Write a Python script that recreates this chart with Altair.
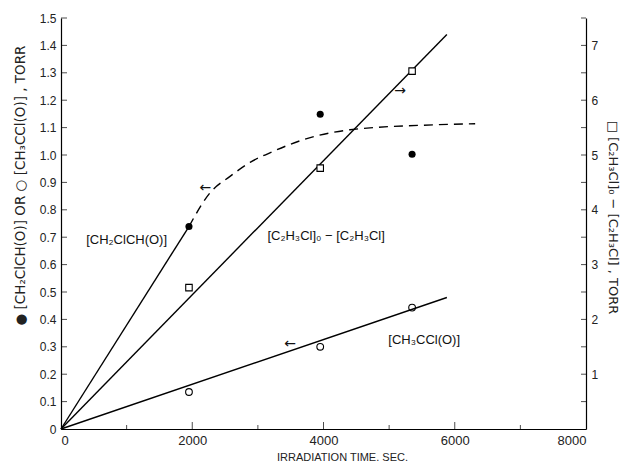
import altair as alt
import pandas as pd

# ---- data ----
times = [1950, 3950, 5350]
ch2clcho = [0.739, 1.149, 1.003]      # filled circles, left axis (torr)
ch3cclo = [0.135, 0.300, 0.443]       # open circles, left axis (torr)
c2h3cl_loss = [2.58, 4.76, 6.53]      # squares, right axis (torr)

solid_ch2_t = [0, 1950]
solid_ch2_v = [0, 0.739]
dash_t = [1950, 2271, 2576, 2881, 3232, 3643, 4405, 5671, 6311]
dash_v = [0.739, 0.862, 0.922, 0.973, 1.013, 1.052, 1.092, 1.110, 1.114]
ch3_line_t = [0, 5880]
ch3_line_v = [0, 0.48]
sq_line_t = [0, 5880]
sq_line_v = [0, 7.20]

x_labels = [0, 2000, 4000, 6000, 8000]
x_ticks_major = [2000, 4000, 6000]
x_ticks_minor = [1000, 3000, 5000, 7000]
left_values = [round(0.1 * i, 1) for i in range(0, 16)]
right_ticks = [0.5 * i for i in range(1, 16)]
right_labels = [1, 2, 3, 4, 5, 6, 7]

label_text = ["[CH₂ClCH(O)]", "[C₂H₃Cl]₀ − [C₂H₃Cl]", "[CH₃CCl(O)]"]
label_t = [1000, 4040, 5534]
label_v = [0.690, 0.703, 0.326]
arrow_text = ["←", "→", "←"]
arrow_t = [2200, 5168, 3490]
arrow_v = [0.878, 1.233, 0.312]

FONT = "Liberation Sans"
TFONT = "DejaVu Sans"
W, H = 525, 411

x_enc = alt.X(
    "t:Q",
    scale=alt.Scale(domain=[0, 8000], nice=False, zero=False),
    axis=alt.Axis(
        values=x_labels, format="d", ticks=False, grid=False, labelPadding=5,
        labelFontSize=13, title="IRRADIATION TIME, SEC.", titleFontSize=11,
        titleFont=FONT,
        titleFontWeight="normal", titleX=281, titleY=31, titleBaseline="alphabetic",
        titleAlign="center",
    ),
)
y_left = alt.Y(
    "v:Q",
    scale=alt.Scale(domain=[0, 1.5], nice=False, zero=False),
    axis=alt.Axis(
        orient="left", values=left_values, ticks=False, grid=False, labelPadding=5,
        labelFontSize=12,
        labelExpr="datum.value == 0 ? '0' : format(datum.value, '.1f')",
        title="● [CH₂ClCH(O)]  OR  ○ [CH₃CCl(O)] , TORR", titleFontSize=13.5,
        titleFont=TFONT,
        titleFontWeight="normal", titleX=-41, titleY=167, titleAngle=-90,
        titleAlign="center", titleBaseline="middle",
    ),
)
y_right = alt.Y(
    "v:Q",
    scale=alt.Scale(domain=[0, 7.5], nice=False, zero=False),
    axis=alt.Axis(
        orient="right", values=right_labels, format="d", ticks=False, grid=False,
        labelPadding=5, labelFontSize=12,
        title="□ [C₂H₃Cl]₀ − [C₂H₃Cl] , TORR", titleFontSize=13,
        titleFont=TFONT,
        titleFontWeight="normal", titleX=26, titleY=199, titleAngle=90,
        titleAlign="center", titleBaseline="middle",
    ),
)

df_dots = pd.DataFrame({"t": times, "v": ch2clcho})
df_open = pd.DataFrame({"t": times, "v": ch3cclo})
df_sq = pd.DataFrame({"t": times, "v": c2h3cl_loss})
df_solid = pd.DataFrame({"t": solid_ch2_t, "v": solid_ch2_v})
df_dash = pd.DataFrame({"t": dash_t, "v": dash_v})
df_ch3 = pd.DataFrame({"t": ch3_line_t, "v": ch3_line_v})
df_sqline = pd.DataFrame({"t": sq_line_t, "v": sq_line_v})
df_xmaj = pd.DataFrame({"t": x_ticks_major, "v": [0] * len(x_ticks_major)})
df_xmin = pd.DataFrame({"t": x_ticks_minor, "v": [0] * len(x_ticks_minor)})
df_lt = pd.DataFrame({"t": [0] * 15, "v": left_values[1:]})
df_rt = pd.DataFrame({"t": [8000] * len(right_ticks), "v": right_ticks})
df_lab = pd.DataFrame({"t": label_t, "v": label_v, "text": label_text})
df_arr = pd.DataFrame({"t": arrow_t, "v": arrow_v, "text": arrow_text})

line_style = dict(color="black", strokeWidth=1.4)

left_layers = alt.layer(
    alt.Chart(df_solid).mark_line(**line_style).encode(x=x_enc, y=y_left),
    alt.Chart(df_dash).mark_line(interpolate="monotone", strokeDash=[9, 6], **line_style).encode(x=x_enc, y=y_left),
    alt.Chart(df_ch3).mark_line(**line_style).encode(x=x_enc, y=y_left),
    alt.Chart(df_dots).mark_point(shape="circle", filled=True, size=50, color="black", opacity=1).encode(x=x_enc, y=y_left),
    alt.Chart(df_open).mark_point(shape="circle", filled=False, size=45, color="black", strokeWidth=1.1, opacity=1).encode(x=x_enc, y=y_left),
    alt.Chart(df_xmaj).mark_tick(orient="vertical", size=7, thickness=1, yOffset=-3.5, color="black").encode(x=x_enc, y=y_left),
    alt.Chart(df_xmin).mark_tick(orient="vertical", size=4, thickness=1, yOffset=-2, color="black").encode(x=x_enc, y=y_left),
    alt.Chart(df_lt).mark_tick(orient="horizontal", size=6, thickness=1, xOffset=3, color="black").encode(x=x_enc, y=y_left),
    alt.Chart(df_lab).mark_text(font=FONT, fontSize=13, color="#111").encode(x=x_enc, y=y_left, text="text:N"),
    alt.Chart(df_arr).mark_text(font="DejaVu Sans", fontSize=14, color="#111").encode(x=x_enc, y=y_left, text="text:N"),
)

right_layers = alt.layer(
    alt.Chart(df_sqline).mark_line(**line_style).encode(x=x_enc, y=y_right),
    alt.Chart(df_sq).mark_point(shape="square", filled=True, size=42, color="white", stroke="black", strokeWidth=1.1, opacity=1).encode(x=x_enc, y=y_right),
    alt.Chart(df_rt).mark_tick(orient="horizontal", size=5, thickness=1, xOffset=-2.5, color="black").encode(x=x_enc, y=y_right),
)

chart = (
    alt.layer(left_layers, right_layers)
    .resolve_scale(y="independent")
    .properties(
        width=W, height=H,
        autosize=alt.AutoSizeParams(type="none"),
        padding={"left": 61, "top": 18, "right": 35, "bottom": 32},
        background="white",
    )
    .configure_view(stroke=None)
    .configure_axis(
        domainColor="black", domainWidth=1.2, labelColor="#222", titleColor="#222",
        labelFont=FONT,
    )
)

chart.save("out.html", embed_options={"renderer": "svg", "actions": False})
